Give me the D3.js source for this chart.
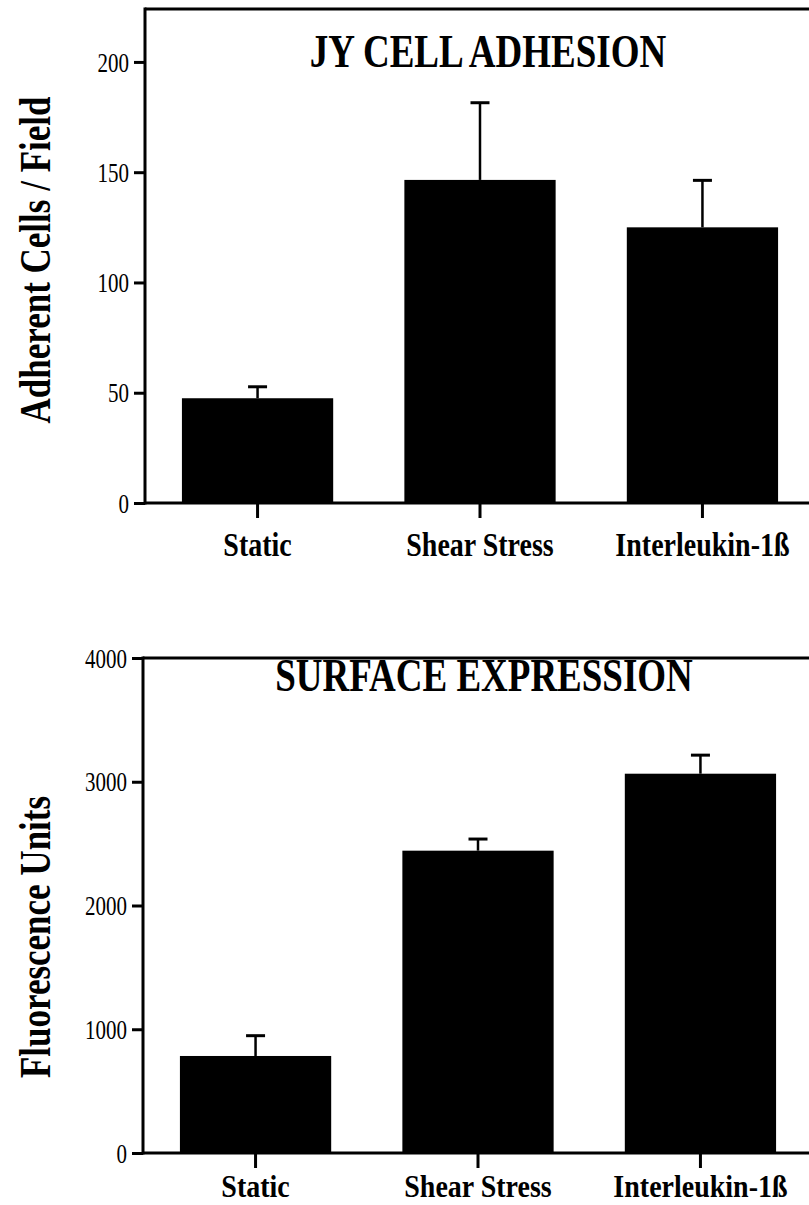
<!DOCTYPE html>
<html>
<head>
<meta charset="utf-8">
<script src="https://cdn.jsdelivr.net/npm/d3@7"></script>
<style>
  html, body { margin: 0; padding: 0; background: #fff; }
  svg { display: block; }
  text { font-family: "Liberation Serif", "Times New Roman", serif; fill: #000; }
</style>
</head>
<body>
<svg id="chart" width="809" height="1205"></svg>
<script>
// ---- Data ----
const categories = ["Static", "Shear Stress", "Interleukin-1ß"];

const adhesionValues = [47.5, 146.5, 125];
const adhesionErrors = [5.2, 35, 21.3];
const adhesionTicks = [0, 50, 100, 150, 200];
const adhesionMax = 224;

const expressionValues = [784, 2443, 3065];
const expressionErrors = [164, 94, 150];
const expressionTicks = [0, 1000, 2000, 3000, 4000];
const expressionMax = 4000;

const svg = d3.select("#chart");
svg.append("rect").attr("width", 809).attr("height", 1205).attr("fill", "#fff");

const FF = "'Liberation Serif', 'Times New Roman', serif";

function stretchedText(g, x, y, str, size, weight, k, anchor) {
  return g.append("text")
    .attr("transform", `translate(${x},${y}) scale(1,${k})`)
    .attr("text-anchor", anchor || "middle")
    .style("font-family", FF)
    .style("font-size", size + "px")
    .style("font-weight", weight)
    .text(str);
}

function panel(opts) {
  const { x0, x1, yTop, yBottom, values, errors, ticks, maxVal, title, titleY, titleX, yLabel, yLabelX, yLabelY, catY, catK } = opts;
  const g = svg.append("g");

  const x = d3.scaleBand().domain(categories).range([x0, x1]).paddingInner(0.32).paddingOuter(0.166);
  const y = d3.scaleLinear().domain([0, maxVal]).range([yBottom, yTop]);

  // bars
  g.selectAll("rect.bar").data(values).join("rect")
    .attr("class", "bar")
    .attr("x", (d, i) => x(categories[i]))
    .attr("width", x.bandwidth())
    .attr("y", d => y(d))
    .attr("height", d => y(0) - y(d))
    .attr("fill", "#000");

  // error bars (upper only)
  const capW = 19;
  values.forEach((v, i) => {
    const cx = x(categories[i]) + x.bandwidth() / 2;
    g.append("line").attr("x1", cx).attr("x2", cx)
      .attr("y1", y(v)).attr("y2", y(v + errors[i]))
      .attr("stroke", "#000").attr("stroke-width", 2.5);
    g.append("line").attr("x1", cx - capW / 2).attr("x2", cx + capW / 2)
      .attr("y1", y(v + errors[i])).attr("y2", y(v + errors[i]))
      .attr("stroke", "#000").attr("stroke-width", 3);
  });

  // y axis
  const yAxis = d3.axisLeft(y).tickValues(ticks).tickSize(11).tickPadding(5).tickFormat(d3.format("d"));
  const ya = g.append("g").attr("transform", `translate(${x0},0)`).call(yAxis);
  ya.select(".domain").remove();
  ya.selectAll(".tick line").attr("stroke", "#000").attr("stroke-width", 3);
  ya.selectAll(".tick text")
    .style("font-size", "21px").style("font-family", FF)
    .attr("transform", "scale(1,1.35)");

  // x axis ticks (below baseline)
  const xAxis = d3.axisBottom(x).tickSize(15).tickFormat("");
  const xa = g.append("g").attr("transform", `translate(0,${yBottom})`).call(xAxis);
  xa.select(".domain").remove();
  xa.selectAll(".tick line").attr("stroke", "#000").attr("stroke-width", 3);
  xa.selectAll(".tick text").remove();
  categories.forEach(c => {
    stretchedText(g, x(c) + x.bandwidth() / 2, catY, c, 28, "bold", catK);
  });

  // frame: left axis, top border, baseline
  g.append("line").attr("x1", x0).attr("x2", x0).attr("y1", y(maxVal) - 1.5).attr("y2", y(0) + 1.5)
    .attr("stroke", "#000").attr("stroke-width", 3);
  g.append("line").attr("x1", x0).attr("x2", 812).attr("y1", y(maxVal)).attr("y2", y(maxVal))
    .attr("stroke", "#000").attr("stroke-width", 3);
  g.append("line").attr("x1", x0).attr("x2", 812).attr("y1", y(0)).attr("y2", y(0))
    .attr("stroke", "#000").attr("stroke-width", 3);

  // title
  stretchedText(g, titleX, titleY, title, 37, "bold", 1.25);

  // y label
  g.append("text").attr("transform", `translate(${yLabelX},${yLabelY}) rotate(-90) scale(1,1.25)`)
    .attr("text-anchor", "middle")
    .style("font-family", FF)
    .style("font-size", "35px").style("font-weight", "bold").text(yLabel);
}

panel({
  x0: 145, x1: 815, yTop: 9, yBottom: 503,
  values: adhesionValues, errors: adhesionErrors, ticks: adhesionTicks, maxVal: adhesionMax,
  title: "JY CELL ADHESION", titleX: 488, titleY: 67,
  yLabel: "Adherent Cells / Field", yLabelX: 50, yLabelY: 260, catY: 556, catK: 1.2
});

panel({
  x0: 143, x1: 813, yTop: 658, yBottom: 1153,
  values: expressionValues, errors: expressionErrors, ticks: expressionTicks, maxVal: expressionMax,
  title: "SURFACE EXPRESSION", titleX: 484, titleY: 691,
  yLabel: "Fluorescence Units", yLabelX: 50, yLabelY: 937, catY: 1197, catK: 1.15
});
</script>
</body>
</html>
